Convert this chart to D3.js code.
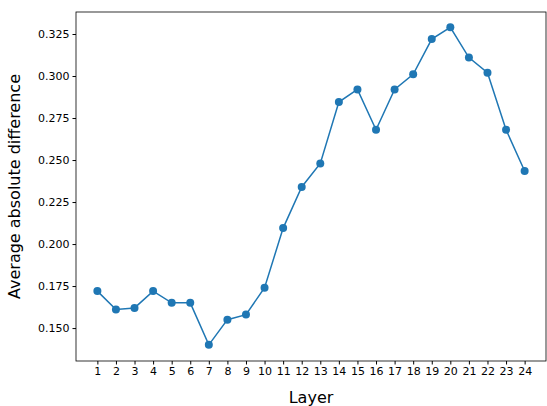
<!DOCTYPE html>
<html>
<head>
<meta charset="utf-8">
<script src="https://cdn.jsdelivr.net/npm/d3@7"></script>
<style>
body { margin: 0; background: #fff; }
text { font-family: "DejaVu Sans", sans-serif; }
</style>
</head>
<body>
<svg id="chart" width="547" height="406"></svg>
<script>
// layer index and measured average absolute difference
const layers = d3.range(1, 25);
const avgDiff = [0.172, 0.161, 0.162, 0.172, 0.165, 0.165, 0.140, 0.155, 0.158, 0.174,
                 0.2095, 0.234, 0.248, 0.2845, 0.292, 0.268, 0.292, 0.301, 0.322, 0.329,
                 0.311, 0.302, 0.268, 0.2435];
const yTicks = [0.150, 0.175, 0.200, 0.225, 0.250, 0.275, 0.300, 0.325];

const m = { left: 76, right: 546, top: 12, bottom: 361 };
const svg = d3.select('#chart');

const x = d3.scaleLinear().domain([-0.15, 25.15]).range([m.left, m.right]);
const y = d3.scaleLinear().domain([0.1304, 0.3381]).range([m.bottom, m.top]);

const xAxis = svg.append('g')
    .attr('transform', 'translate(0,' + m.bottom + ')')
    .call(d3.axisBottom(x).tickValues(layers).tickFormat(d3.format('d')).tickSize(3.5).tickPadding(3));
const yAxis = svg.append('g')
    .attr('transform', 'translate(' + m.left + ',0)')
    .call(d3.axisLeft(y).tickValues(yTicks).tickFormat(d3.format('.3f')).tickSize(3.5).tickPadding(3));

[xAxis, yAxis].forEach(function(g) {
    g.selectAll('text').attr('font-size', '11px').attr('fill', '#000');
    g.selectAll('line').attr('stroke', '#000');
    g.select('.domain').remove();
});

svg.append('rect')
    .attr('x', m.left).attr('y', m.top)
    .attr('width', m.right - m.left).attr('height', m.bottom - m.top)
    .attr('fill', 'none').attr('stroke', '#000').attr('stroke-width', 0.8);

svg.append('path')
    .datum(avgDiff)
    .attr('fill', 'none')
    .attr('stroke', '#1f77b4')
    .attr('stroke-width', 1.5)
    .attr('d', d3.line().x(function(d, i) { return x(layers[i]); }).y(function(d) { return y(d); }));

svg.append('g').selectAll('circle')
    .data(avgDiff)
    .enter()
        .append('circle')
        .attr('cx', function(d, i) { return x(layers[i]); })
        .attr('cy', function(d) { return y(d); })
        .attr('r', 4)
        .attr('fill', '#1f77b4');

svg.append('text')
    .attr('x', (m.left + m.right) / 2).attr('y', 403)
    .attr('text-anchor', 'middle').attr('font-size', '16px')
    .text('Layer');

svg.append('text')
    .attr('transform', 'translate(20,' + (m.top + m.bottom) / 2 + ') rotate(-90)')
    .attr('text-anchor', 'middle').attr('font-size', '16px')
    .text('Average absolute difference');
</script>
</body>
</html>
